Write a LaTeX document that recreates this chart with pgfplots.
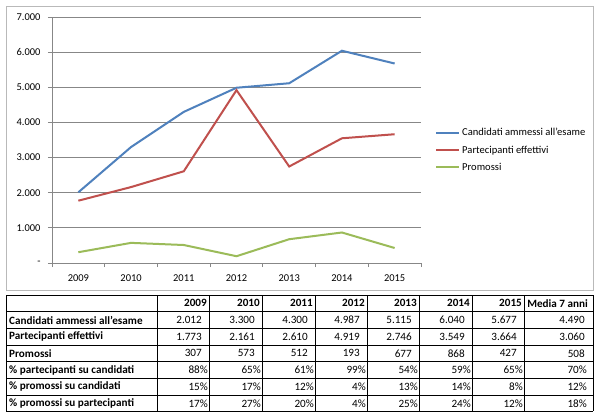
\documentclass[border=0pt]{standalone}
\usepackage{fontspec}
\setmainfont{Carlito}
\usepackage{pgfplots}
\pgfplotsset{compat=1.18}
\definecolor{cblue}{HTML}{4F81BD}
\definecolor{cred}{HTML}{C0504D}
\definecolor{cgreen}{HTML}{9BBB59}
\definecolor{cgrid}{HTML}{878787}
\newcommand\tf{\fontsize{11.2}{13}\selectfont}
\newcommand\trow[9]{%
  \node[anchor=west,font=\tf\bfseries,inner sep=0pt] at (9bp,-\ry bp) {#1};
  \node[anchor=east,font=\tf\cf,inner sep=0pt] at (\xa bp,-\ry bp) {#2};
  \node[anchor=east,font=\tf\cf,inner sep=0pt] at (\xa bp+53bp,-\ry bp) {#3};
  \node[anchor=east,font=\tf\cf,inner sep=0pt] at (\xa bp+106bp,-\ry bp) {#4};
  \node[anchor=east,font=\tf\cf,inner sep=0pt] at (\xa bp+158bp,-\ry bp) {#5};
  \node[anchor=east,font=\tf\cf,inner sep=0pt] at (\xa bp+210bp,-\ry bp) {#6};
  \node[anchor=east,font=\tf\cf,inner sep=0pt] at (\xa bp+263bp,-\ry bp) {#7};
  \node[anchor=east,font=\tf\cf,inner sep=0pt] at (\xa bp+315bp,-\ry bp) {#8};
  \node[anchor=east,font=\tf\cf,inner sep=0pt] at (\xb bp,-\ry bp) {#9};
}
\begin{document}
\begin{tikzpicture}
\useasboundingbox (0,0) rectangle (600bp,-412bp);
\fill[white] (0,0) rectangle (600bp,-412bp);
\draw[color=gray!55, line width=0.8bp] (6bp,-6bp) rectangle (593bp,-290bp);
\begin{axis}[
  at={(52bp,-263bp)}, anchor=south west,
  scale only axis, width=369bp, height=246bp,
  xmin=0.5, xmax=7.5, ymin=0, ymax=7000,
  xtick={0.5,1.5,...,7.5}, x tick label as interval,
  xticklabels={2009,2010,2011,2012,2013,2014,2015},
  ytick={0,1000,...,7000},
  yticklabels={{-\hspace{8bp}},1.000,2.000,3.000,4.000,5.000,6.000,7.000},
  axis x line*=bottom, axis y line*=left,
  axis line style={cgrid, line width=0.8bp},
  tick style={cgrid, line width=0.8bp},
  tick align=outside, major tick length=4bp,
  ymajorgrids, grid style={cgrid, line width=0.8bp},
  tick label style={font=\fontsize{10.5}{12}\selectfont},
  y tick label style={xshift=-4bp},
  x tick label style={yshift=-4bp},
  legend style={at={(1.038,0.459)}, anchor=west, draw=none, fill=none,
    inner xsep=0pt, font=\fontsize{10.6}{12}\selectfont, row sep=4.5bp},
  legend cell align=left,
  legend image code/.code={\draw[#1] (0bp,0bp) -- (23bp,0bp);},
  every axis plot/.append style={line width=2bp},
]
\addplot[cblue] coordinates {(1,2012) (2,3300) (3,4300) (4,4987) (5,5115) (6,6040) (7,5677)};
\addplot[cred] coordinates {(1,1773) (2,2161) (3,2610) (4,4919) (5,2746) (6,3549) (7,3664)};
\addplot[cgreen] coordinates {(1,307) (2,573) (3,512) (4,193) (5,677) (6,868) (7,427)};
\legend{Candidati ammessi all'esame, Partecipanti effettivi, Promossi}
\end{axis}
% table grid
\begin{scope}[line width=0.8bp]
\foreach \y in {295,311.7,328.3,345,361.7,378.3,395,411.2}
  \draw (6bp,-\y bp) -- (593bp,-\y bp);
\foreach \x in {6,157,209,262,315,367,419,472,524,593}
  \draw (\x bp,-295bp) -- (\x bp,-411.2bp);
\end{scope}
\def\cf{\bfseries}\def\xa{207}\def\xb{588}\def\ry{303.3}
\trow{}{2009}{2010}{2011}{2012}{2013}{2014}{2015}{Media 7 anni}
\def\cf{}\def\xa{202}\def\xb{585}
\def\ry{320}\trow{Candidati ammessi all'esame}{2.012}{3.300}{4.300}{4.987}{5.115}{6.040}{5.677}{4.490}
\def\ry{336.7}\trow{Partecipanti effettivi}{1.773}{2.161}{2.610}{4.919}{2.746}{3.549}{3.664}{3.060}
\def\ry{353.3}\trow{Promossi}{307}{573}{512}{193}{677}{868}{427}{508}
\def\xa{208}\def\xb{587}
\def\ry{370}\trow{\% partecipanti su candidati}{88\%}{65\%}{61\%}{99\%}{54\%}{59\%}{65\%}{70\%}
\def\ry{386.7}\trow{\% promossi su candidati}{15\%}{17\%}{12\%}{4\%}{13\%}{14\%}{8\%}{12\%}
\def\ry{403.3}\trow{\% promossi su partecipanti}{17\%}{27\%}{20\%}{4\%}{25\%}{24\%}{12\%}{18\%}
\end{tikzpicture}
\end{document}
